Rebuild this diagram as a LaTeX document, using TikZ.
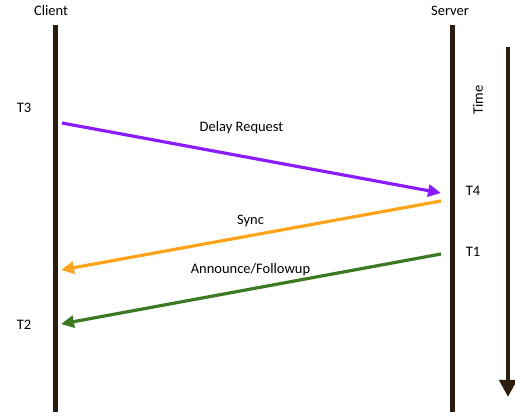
\documentclass[tikz,border=0pt]{standalone}
\usepackage{fontspec}
\setmainfont{Carlito}
\usetikzlibrary{arrows.meta}
\definecolor{polecol}{HTML}{2B1D0E}
\definecolor{reqcol}{HTML}{8A1CFF}
\definecolor{synccol}{HTML}{FFA31A}
\definecolor{anncol}{HTML}{3B7A22}

\begin{document}
\begin{tikzpicture}[x=1pt,y=-1pt]
		\tikzset{every node/.style={inner sep=0pt,font=\fontsize{14.5}{16}\selectfont},
			lifeline/.style={polecol,line width=5pt},
			msg/.style={line width=3.2pt,-{Triangle[length=13pt,width=12pt]}}}
		\useasboundingbox (0,0) rectangle (515,417);
		\node (client) at (51,11) {Client};
		\node (server) at (450,11) {Server};
		\coordinate (ctop) at (55,25);
		\coordinate (cbot) at (55,412);
		\coordinate (stop) at (452,25);
		\coordinate (sbot) at (452,412);
		\draw [lifeline] (ctop) -- (cbot);
		\draw [lifeline] (stop) -- (sbot);
		\coordinate (ttop) at (508,47);
		\coordinate (tbot) at (508,397);
		\draw [lifeline,line width=4.5pt,-{Triangle[length=17pt,width=17pt]}] (ttop) -- (tbot);
		\node [rotate=90] (time) at (478,100) {Time};
		\node (t3) at (24,108) {T3};
		\node (t4) at (473,191) {T4};
		\node (t1) at (473,252) {T1};
		\node (t2) at (24,325) {T2};
		\coordinate (reqa) at (62,123);
		\coordinate (reqb) at (441,193);
		\draw [msg,reqcol] (reqa) -- (reqb);
		\node (req) at (241.5,128) {Delay Request};
		\coordinate (synca) at (441,201);
		\coordinate (syncb) at (61,270);
		\draw [msg,synccol] (synca) -- (syncb);
		\node (sync) at (250.5,221) {Sync};
		\coordinate (anna) at (441,254);
		\coordinate (annb) at (61,324);
		\draw [msg,anncol] (anna) -- (annb);
		\node (ann) at (250.5,270) {Announce/Followup};
\end{tikzpicture}
\end{document}
